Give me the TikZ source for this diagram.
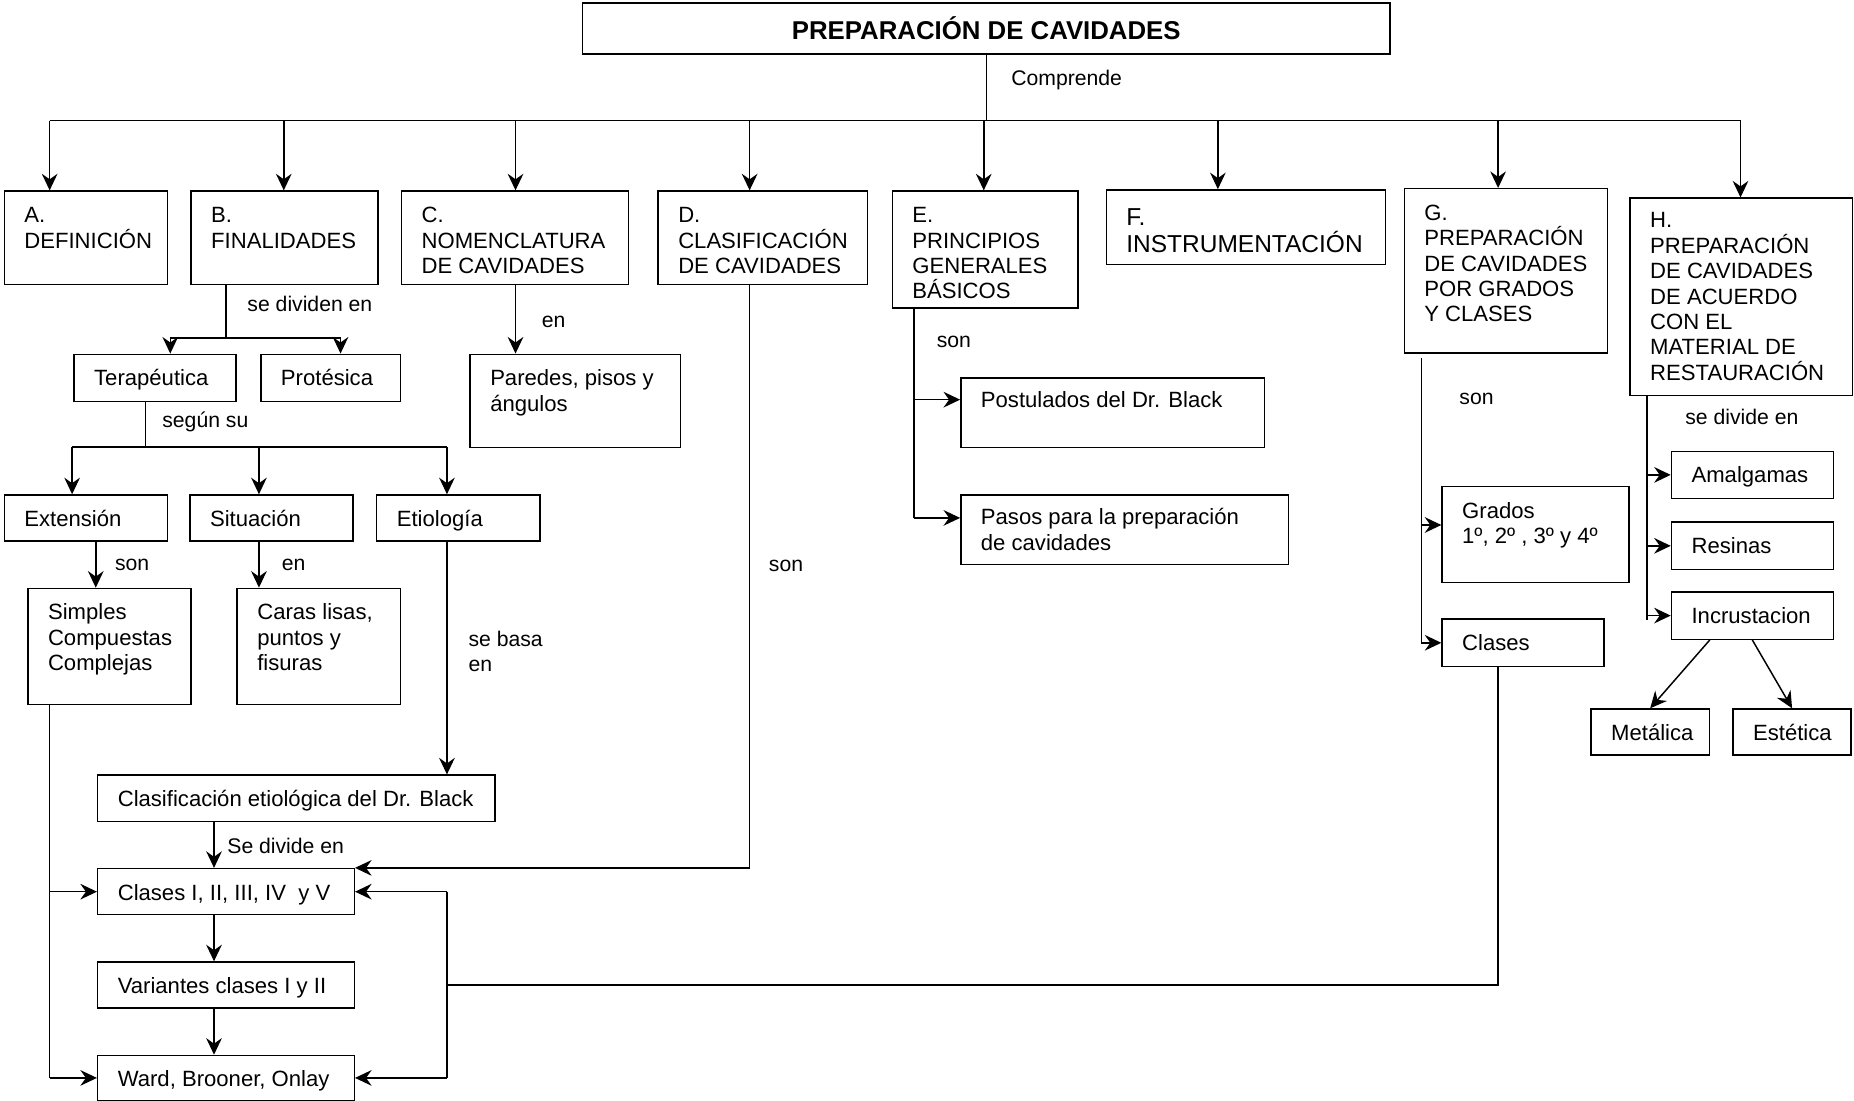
\documentclass[tikz,border=0pt]{standalone}
\usepackage{fontspec}
\setmainfont{Liberation Sans}
\usetikzlibrary{arrows.meta,positioning}

\newlength{\ux}
\setlength{\ux}{0.642pt}
% caja de texto: [margen sup.] ancho, alto, texto
\newcommand{\cajatexto}[4][11.6]{\parbox[c][#3\ux][t]{#2\ux}{\raggedright\leftskip=17\ux\vspace*{#1\ux}\rule{0pt}{0.7\baselineskip}#4}}

\begin{document}
\begin{tikzpicture}[x=0.642pt,y=-0.642pt,
    font=\fontsize{12}{13.8}\selectfont,
    caja/.style={draw,anchor=north west,inner sep=0pt,line width=0.8pt},
    linea/.style={line width=0.8pt},
    flecha/.style={-{Stealth[length=9pt,width=8.5pt,inset=3pt]},line width=0.8pt},
    etiq/.style={anchor=west,inner sep=0pt,align=left,font=\fontsize{11.5}{13.5}\selectfont}]
  \useasboundingbox (0,0) rectangle (1568,931);

  % titulo
  \node[caja] (titulo) at (492,2) {\parbox[c][43\ux][c]{683\ux}{\centering\fontsize{14}{16}\selectfont\bfseries PREPARACIÓN DE CAVIDADES}};

  % primera fila
  \node[caja] (defin)  at (3,161)    {\cajatexto{138}{79}{A.\\DEFINICIÓN}};
  \node[caja] (final)  at (161,161)  {\cajatexto{158}{79}{B.\\FINALIDADES}};
  \node[caja] (nomen)  at (339,161)  {\cajatexto{192}{79}{C.\\NOMENCLATURA\\DE CAVIDADES}};
  \node[caja] (clasif) at (556,161)  {\cajatexto{177}{79}{D.\\CLASIFICACIÓN\\DE CAVIDADES}};
  \node[caja] (princ)  at (754,161)  {\cajatexto{157}{99}{E.\\PRINCIPIOS\\GENERALES\\BÁSICOS}};
  \node[caja,font=\fontsize{13.3}{14.2}\selectfont] (instr) at (935,160) {\cajatexto[15]{236}{63}{F.\\INSTRUMENTACIÓN}};
  \node[caja] (gradcl) at (1187,159) {\cajatexto{172}{139}{G.\\PREPARACIÓN\\DE CAVIDADES\\POR GRADOS\\Y CLASES}};
  \node[caja] (mater)  at (1378,167) {\cajatexto[10]{188}{167}{H.\\PREPARACIÓN\\DE CAVIDADES\\DE ACUERDO\\CON EL\\MATERIAL DE\\RESTAURACIÓN}};

  % finalidades
  \node[caja] (terap)   at (62,299)  {\cajatexto{137}{40}{Terapéutica}};
  \node[caja] (protes)  at (220,299) {\cajatexto{118}{40}{Protésica}};
  \node[caja] (paredes) at (397,299) {\cajatexto{178}{79}{Paredes, pisos y\\ángulos}};
  \node[caja] (exten)   at (3,418)   {\cajatexto{138}{39}{Extensión}};
  \node[caja] (situa)   at (160,418) {\cajatexto{138}{39}{Situación}};
  \node[caja] (etiol)   at (318,418) {\cajatexto{138}{39}{Etiología}};
  \node[caja] (simples) at (23,497)  {\cajatexto{138}{98}{Simples\\Compuestas\\Complejas}};
  \node[caja] (caras)   at (200,497) {\cajatexto{138}{98}{Caras lisas,\\puntos y\\fisuras}};
  \node[caja] (clasetio) at (82,655) {\cajatexto{336}{39}{Clasificación etiológica del Dr. Black}};
  \node[caja] (clases)  at (82,734)  {\cajatexto{217}{39}{Clases I, II, III, IV~ y V}};
  \node[caja] (varian)  at (82,813)  {\cajatexto{217}{39}{Variantes clases I y II}};
  \node[caja] (ward)    at (82,892)  {\cajatexto{217}{38}{Ward, Brooner, Onlay}};

  % principios
  \node[caja] (postul) at (812,319) {\cajatexto[10]{257}{59}{Postulados del Dr. Black}};
  \node[caja] (pasos)  at (812,418) {\cajatexto[10]{277}{59}{Pasos para la preparación\\de cavidades}};

  % grados y clases
  \node[caja] (grados)  at (1219,411) {\cajatexto{158}{81}{Grados\\1º, 2º , 3º y 4º}};
  \node[caja] (clasesg) at (1219,523) {\cajatexto{137}{40}{Clases}};

  % material
  \node[caja] (amalg)  at (1413,381) {\cajatexto{137}{40}{Amalgamas}};
  \node[caja] (resin)  at (1413,441) {\cajatexto{137}{40}{Resinas}};
  \node[caja] (incrus) at (1413,500) {\cajatexto{137}{40}{Incrustacion}};
  \node[caja] (metal)  at (1345,599) {\cajatexto{100}{39}{Metálica}};
  \node[caja] (estet)  at (1465,599) {\cajatexto{100}{39}{Estética}};

  % etiquetas
  \node[etiq] (lcompr) at (855,68)  {Comprende};
  \node[etiq] (ldivid) at (209,257) {se dividen en};
  \node[etiq] (lenc)   at (458,272) {en};
  \node[etiq] (lsegun) at (137,357) {según su};
  \node[etiq] (lsonx)  at (97,478)  {son};
  \node[etiq] (lens)   at (238,478) {en};
  \node[etiq] (lbasa)  at (396,551) {se basa\\en};
  \node[etiq] (lsediv) at (192,715) {Se divide en};
  \node[etiq] (lsond)  at (650,479) {son};
  \node[etiq] (lsone)  at (792,289) {son};
  \node[etiq] (lsong)  at (1234,337) {son};
  \node[etiq] (ldivh)  at (1425,353) {se divide en};

  % barra superior
  \coordinate (busi) at (42,102);
  \coordinate (busd) at (1472,102);
  \draw[linea] (titulo.south) -- (titulo.south |- busi);
  \draw[linea] (busi) -- (busd);
  \foreach \x/\n in {42/defin,240/final,436/nomen,634/clasif,832/princ,1030/instr,1267/gradcl,1472/mater}{
    \coordinate (b-\n) at (\x,102);
    \draw[flecha] (b-\n) -- (b-\n |- \n.north);
  }

  % finalidades
  \coordinate (rb1) at (144,286);
  \coordinate (rb2) at (288,286);
  \draw[linea] (191,0 |- final.south) -- (191,0 |- rb1);
  \draw[linea] (rb1) -- (rb2);
  \draw[flecha] (rb1) -- (rb1 |- terap.north);
  \draw[flecha] (rb2) -- (rb2 |- protes.north);
  \draw[flecha] (436,0 |- nomen.south) -- (436,0 |- paredes.north);

  \coordinate (rt1) at (61,378);
  \coordinate (rt3) at (378,378);
  \draw[linea] (123,0 |- terap.south) -- (123,0 |- rt1);
  \draw[linea] (rt1) -- (rt3);
  \foreach \x/\n in {61/exten,219/situa,378/etiol}
    \draw[flecha] (\x,0 |- rt1) -- (\x,0 |- \n.north);

  \draw[flecha] (81,0 |- exten.south) -- (81,0 |- simples.north);
  \draw[flecha] (219,0 |- situa.south) -- (219,0 |- caras.north);
  \draw[flecha] (378,0 |- etiol.south) -- (378,0 |- clasetio.north);
  \draw[flecha] (181,0 |- clasetio.south) -- (181,0 |- clases.north);
  \draw[flecha] (181,0 |- clases.south) -- (181,0 |- varian.north);
  \draw[flecha] (181,0 |- varian.south) -- (181,0 |- ward.north);

  % lado izquierdo
  \draw[linea] (42,0 |- simples.south) -- (42,0 |- ward.west);
  \draw[flecha] (42,0 |- clases.west) -- (clases.west);
  \draw[flecha] (42,0 |- ward.west) -- (ward.west);

  % clasificacion
  \draw[flecha] (634,0 |- clasif.south) |- (clases.north east);

  % lazo derecho
  \coordinate (lazo) at (378,833);
  \draw[linea] (378,0 |- clases.east) -- (378,0 |- ward.east);
  \draw[flecha] (378,0 |- clases.east) -- (clases.east);
  \draw[flecha] (378,0 |- ward.east) -- (ward.east);
  \draw[linea] (1267,0 |- clasesg.south) |- (lazo);

  % principios
  \draw[linea] (773,0 |- princ.south) -- (773,438);
  \draw[flecha] (773,338) -- (postul.west |- 0,338);
  \draw[flecha] (773,438) -- (pasos.west |- 0,438);

  % grados y clases
  \draw[linea] (1202,303) -- (1202,0 |- clasesg.west);
  \draw[flecha] (1202,444) -- (grados.west |- 0,444);
  \draw[flecha] (1202,0 |- clasesg.west) -- (clasesg.west);

  % material
  \draw[linea] (1393,0 |- mater.south) -- (1393,524);
  \foreach \n in {amalg,resin,incrus}
    \draw[flecha] (1393,0 |- \n.west) -- (\n.west);
  \draw[flecha] (1446,0 |- incrus.south) -- (metal.north);
  \draw[flecha] (1482,0 |- incrus.south) -- (estet.north);
\end{tikzpicture}
\end{document}
